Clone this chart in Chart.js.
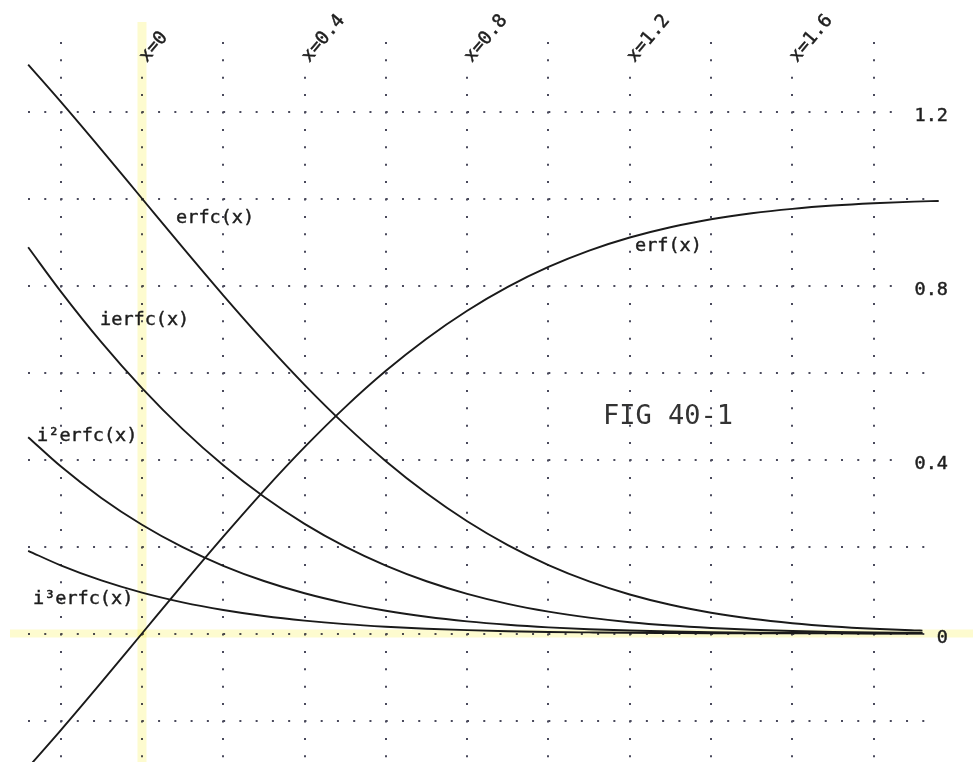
<!DOCTYPE html>
<html><head><meta charset="utf-8">
<script src="https://cdn.jsdelivr.net/npm/chart.js@4/dist/chart.umd.min.js"></script>
<style>html,body{margin:0;padding:0;background:#fff}#wrap{width:973px;height:762px;position:relative}</style>
</head><body><div id="wrap"><canvas id="c"></canvas></div>
<script>
// ---- data ----
const xErf  = [-0.28,-0.2,-0.1,0,0.1,0.2,0.3,0.4,0.5,0.6,0.7,0.8,0.9,1.0,1.1,1.2,1.3,1.4,1.5,1.6,1.7,1.8,1.9,1.96];
const xErfc = [-0.28,-0.2,-0.1,0,0.1,0.2,0.3,0.4,0.5,0.6,0.7,0.8,0.9,1.0,1.1,1.2,1.3,1.4,1.5,1.6,1.7,1.8,1.9,1.92];
const erfVals   = [-0.3079,-0.2227,-0.1125,0,0.1125,0.2227,0.3286,0.4284,0.5205,0.6039,0.6778,0.7421,0.7969,0.8427,0.8802,0.9103,0.9340,0.9523,0.9661,0.9763,0.9838,0.9891,0.9928,0.9944];
const erfcVals  = [1.3079,1.2227,1.1125,1,0.8875,0.7773,0.6714,0.5716,0.4795,0.3961,0.3222,0.2579,0.2031,0.1573,0.1198,0.0897,0.0660,0.0477,0.0339,0.0237,0.0162,0.0109,0.0072,0.0066];
const ierfcVals = [0.8879,0.7866,0.6698,0.5642,0.4698,0.3866,0.3142,0.2521,0.1996,0.1560,0.1201,0.0912,0.0682,0.0503,0.0365,0.0260,0.0183,0.0127,0.0086,0.0058,0.0038,0.0025,0.0016,0.0014];
const i2erfcVals = [0.4513,0.3843,0.3116,0.25,0.1984,0.1557,0.1207,0.0925,0.0700,0.0522,0.0385,0.0280,0.0201,0.0142,0.0099,0.0068,0.0046,0.0030,0.0020,0.0013,0.0008,0.0005,0.0003,0.0003];
const i3erfcVals = [0.1901,0.1567,0.1220,0.0940,0.0717,0.0541,0.0403,0.0297,0.0216,0.0156,0.0110,0.0077,0.0053,0.0036,0.0025,0.0016,0.0011,0.0007,0.0004,0.0003,0.0002,0.0001,0.0001,0.0001];

const xTickValues = [0, 0.4, 0.8, 1.2, 1.6];
const xTickLabels = ['x=0', 'x=0.4', 'x=0.8', 'x=1.2', 'x=1.6'];
const yTickValues = [1.2, 0.8, 0.4, 0];
const yTickLabels = ['1.2', '0.8', '0.4', '0'];
const curveNames = ['erfc(x)', 'ierfc(x)', 'i²erfc(x)', 'i³erfc(x)', 'erf(x)'];
const figTitle = 'FIG 40-1';

// label anchor positions (data units), kept apart from the data
const curveLabelPos = [[0.084,0.955],[-0.103,0.721],[-0.258,0.454],[-0.268,0.079],[1.213,0.891]];
const figTitlePos = [1.134, 0.498];

const pts = (xs, ys) => xs.map((x, i) => ({x, y: ys[i]}));
const lineDs = (xs, ys) => ({data: pts(xs, ys), borderColor:'#1a1a1a', borderWidth:1.9, pointRadius:0,
  cubicInterpolationMode:'monotone', fill:false, clip:false});

const FONT = '"DejaVu Sans Mono", "Liberation Mono", monospace';

function boldText(ctx, t, x, y) {
  ctx.fillText(t, x, y);
  ctx.strokeText(t, x, y);
}

const deco = {
  id: 'deco',
  beforeDatasetsDraw(chart) {
    const {ctx, scales: {x, y}, chartArea: a} = chart;
    ctx.save();
    ctx.fillStyle = '#fff';
    xTickValues.forEach(v => { const px = x.getPixelForValue(v); ctx.fillRect(px - 4, a.top - 2, 8, 38); });
    yTickValues.forEach(v => { if (v !== 0) { const py = y.getPixelForValue(v); ctx.fillRect(906, py - 4, 40, 8); } });
    ctx.globalCompositeOperation = 'multiply';
    ctx.fillStyle = '#fdfbcf';
    const x0 = x.getPixelForValue(0), y0 = y.getPixelForValue(0);
    ctx.fillRect(x0 - 4.5, 22, 9, chart.height - 22);
    ctx.fillRect(10, y0 - 4, chart.width - 10, 8);
    ctx.restore();
  },
  afterDatasetsDraw(chart) {
    const {ctx, scales: {x, y}} = chart;
    ctx.save();
    ctx.fillStyle = '#1e1e1e';
    ctx.strokeStyle = '#1e1e1e';
    ctx.lineWidth = 0.45;
    ctx.font = '18.5px ' + FONT;
    ctx.textBaseline = 'middle';
    ctx.textAlign = 'left';
    xTickValues.forEach((v, i) => {
      const px = x.getPixelForValue(v);
      ctx.save();
      ctx.translate(px + 1, 60);
      ctx.rotate(-50 * Math.PI / 180);
      boldText(ctx, xTickLabels[i], 0, 0);
      ctx.restore();
    });
    curveNames.forEach((t, i) => {
      const [vx, vy] = curveLabelPos[i];
      boldText(ctx, t, x.getPixelForValue(vx), y.getPixelForValue(vy));
    });
    ctx.textAlign = 'right';
    yTickValues.forEach((v, i) => {
      boldText(ctx, yTickLabels[i], 948, y.getPixelForValue(v) + 5);
    });
    ctx.textAlign = 'left';
    ctx.font = '27px ' + FONT;
    ctx.fillStyle = '#333';
    ctx.fillText(figTitle, x.getPixelForValue(figTitlePos[0]), y.getPixelForValue(figTitlePos[1]));
    ctx.restore();
  }
};

new Chart(document.getElementById('c'), {
  type: 'line',
  data: {
    datasets: [
      lineDs(xErfc, erfcVals),
      lineDs(xErfc, ierfcVals),
      lineDs(xErfc, i2erfcVals),
      lineDs(xErfc, i3erfcVals),
      lineDs(xErf, erfVals)
    ]
  },
  options: {
    responsive: true,
    maintainAspectRatio: false,
    animation: false,
    layout: {padding: {left: 28, right: 38, top: 35, bottom: 0}},
    plugins: {legend: {display: false}, tooltip: {enabled: false}},
    scales: {
      x: {
        type: 'linear', min: -0.2804, max: 1.9509,
        ticks: {display: false, stepSize: 0.2, includeBounds: false},
        grid: {color: '#4a4a5c', lineWidth: 2, drawTicks: false, borderDash: [2, 15.4], borderDashOffset: 10.5},
        border: {display: false, dash: [2, 15.4], dashOffset: 10.5}
      },
      y: {
        type: 'linear', min: -0.2954, max: 1.3759,
        ticks: {display: false, stepSize: 0.2, includeBounds: false},
        grid: {color: '#4a4a5c', lineWidth: 2, drawTicks: false, borderDash: [2, 14.26], borderDashOffset: 0},
        border: {display: false, dash: [2, 14.26], dashOffset: 0}
      }
    }
  },
  plugins: [deco]
});
</script>
</body></html>
